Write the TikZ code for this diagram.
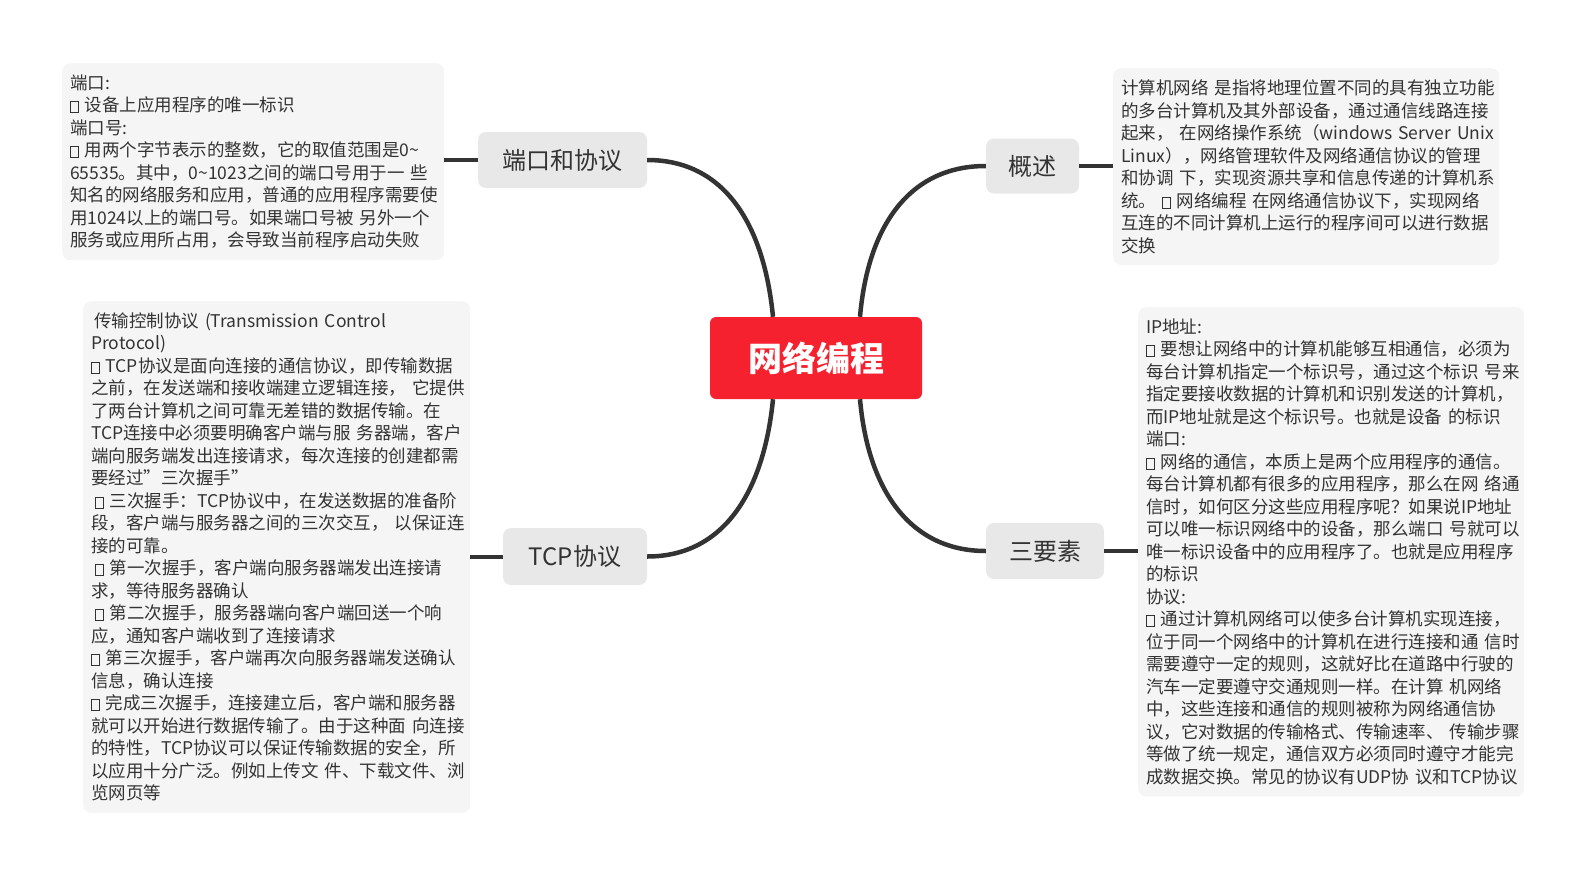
\documentclass[tikz,border=0pt]{standalone}
\usepackage{fontspec}
\setmainfont{Noto Sans CJK SC}
\definecolor{rootred}{HTML}{F6212F}
\definecolor{txt}{HTML}{333333}
\definecolor{lnk}{HTML}{333333}
\definecolor{branchbg}{HTML}{E8E8E8}
\definecolor{notebg}{HTML}{F5F5F5}
\newcommand\bx{{\fboxsep=0pt\fboxrule=0.6pt\raisebox{-0.5pt}{\fbox{\rule{0pt}{10.5pt}\hspace{7.5pt}}}}\space}
\newcommand\li[1]{\mbox{#1}\\}
\tikzset{
  rootnode/.style={fill=rootred, rounded corners=6pt, text=white, inner sep=0pt,
    minimum width=212pt, minimum height=82pt, font={\fontsize{34}{40}\selectfont\bfseries}},
  branch/.style={fill=branchbg, rounded corners=8pt, text=txt, inner sep=0pt,
    font={\fontsize{24}{28}\selectfont}},
  note/.style={fill=notebg, rounded corners=8pt, text=txt, anchor=north west,
    inner xsep=8pt, inner ysep=11.5pt, align=left,
    font={\fontsize{17.5}{22.5}\selectfont}},
  link/.style={draw=lnk, line width=4.5pt},
  stub/.style={draw=lnk, line width=4pt}
}
\begin{document}
\begin{tikzpicture}[x=1pt,y=-1pt]
\useasboundingbox (0,0) rectangle (1587,873);

\node[rootnode] (root) at (816,358) {网络编程};

\node[branch, minimum width=169pt, minimum height=56pt] (port) at (562.5,160) {端口和协议};
\node[branch, minimum width=144pt, minimum height=57pt] (tcp) at (575,556.5) {TCP协议};
\node[branch, minimum width=93pt, minimum height=55pt] (over) at (1032.5,166) {概述};
\node[branch, minimum width=118pt, minimum height=56pt] (three) at (1045,551) {三要素};

\node[note, text width=366pt] (nport) at (62,63) {%
\li{端口:}
\li{\bx 设备上应用程序的唯一标识}
\li{端口号:}
\li{\bx 用两个字节表示的整数，它的取值范围是0\textasciitilde}
\li{65535。其中，0\textasciitilde 1023之间的端口号用于一 些}
\li{知名的网络服务和应用，普通的应用程序需要使}
\li{用1024以上的端口号。如果端口号被 另外一个}
\mbox{服务或应用所占用，会导致当前程序启动失败}};

\node[note, text width=370pt] (nover) at (1113,68) {%
\li{计算机网络 是指将地理位置不同的具有独立功能}
\li{的多台计算机及其外部设备，通过通信线路连接}
\li{起来， 在网络操作系统（windows Server Unix}
\li{Linux），网络管理软件及网络通信协议的管理}
\li{和协调 下，实现资源共享和信息传递的计算机系}
\li{统。 \bx 网络编程 在网络通信协议下，实现网络}
\li{互连的不同计算机上运行的程序间可以进行数据}
\mbox{交换}};

\node[note, text width=370pt] (nthree) at (1138,307) {%
\li{IP地址:}
\li{\bx 要想让网络中的计算机能够互相通信，必须为}
\li{每台计算机指定一个标识号，通过这个标识 号来}
\li{指定要接收数据的计算机和识别发送的计算机，}
\li{而IP地址就是这个标识号。也就是设备 的标识}
\li{端口:}
\li{\bx 网络的通信，本质上是两个应用程序的通信。}
\li{每台计算机都有很多的应用程序，那么在网 络通}
\li{信时，如何区分这些应用程序呢？如果说IP地址}
\li{可以唯一标识网络中的设备，那么端口 号就可以}
\li{唯一标识设备中的应用程序了。也就是应用程序}
\li{的标识}
\li{协议:}
\li{\bx 通过计算机网络可以使多台计算机实现连接，}
\li{位于同一个网络中的计算机在进行连接和通 信时}
\li{需要遵守一定的规则，这就好比在道路中行驶的}
\li{汽车一定要遵守交通规则一样。在计算 机网络}
\li{中，这些连接和通信的规则被称为网络通信协}
\li{议，它对数据的传输格式、传输速率、 传输步骤}
\li{等做了统一规定，通信双方必须同时遵守才能完}
\mbox{成数据交换。常见的协议有UDP协 议和TCP协议}};

\node[note, text width=371pt] (ntcp) at (83,301) {%
\li{\hspace{3pt}传输控制协议 (Transmission Control}
\li{Protocol)}
\li{\bx TCP协议是面向连接的通信协议，即传输数据}
\li{之前，在发送端和接收端建立逻辑连接， 它提供}
\li{了两台计算机之间可靠无差错的数据传输。在}
\li{TCP连接中必须要明确客户端与服 务器端，客户}
\li{端向服务端发出连接请求，每次连接的创建都需}
\li{要经过\symbol{"22}三次握手\symbol{"22}}
\li{\hspace{4pt}\bx 三次握手：TCP协议中，在发送数据的准备阶}
\li{段，客户端与服务器之间的三次交互， 以保证连}
\li{接的可靠。}
\li{\hspace{4pt}\bx 第一次握手，客户端向服务器端发出连接请}
\li{求，等待服务器确认}
\li{\hspace{4pt}\bx 第二次握手，服务器端向客户端回送一个响}
\li{应，通知客户端收到了连接请求}
\li{\bx 第三次握手，客户端再次向服务器端发送确认}
\li{信息，确认连接}
\li{\bx 完成三次握手，连接建立后，客户端和服务器}
\li{就可以开始进行数据传输了。由于这种面 向连接}
\li{的特性，TCP协议可以保证传输数据的安全，所}
\li{以应用十分广泛。例如上传文 件、下载文件、浏}
\mbox{览网页等}};

% main curves
\draw[link] ([xshift=-43pt]root.north) .. controls (764,225) and (725,160) .. (port.east);
\draw[link] ([xshift=44pt]root.north) .. controls (868,225) and (910,166) .. (over.west);
\draw[link] ([xshift=-43pt]root.south) .. controls (764,490) and (725,556.5) .. (tcp.east);
\draw[link] ([xshift=44pt]root.south) .. controls (868,490) and (910,551) .. (three.west);

% stubs
\draw[stub] (port.west) -- (port.west -| nport.east);
\draw[stub] (tcp.west) -- (tcp.west -| ntcp.east);
\draw[stub] (over.east) -- (over.east -| nover.west);
\draw[stub] (three.east) -- (three.east -| nthree.west);
\end{tikzpicture}
\end{document}
